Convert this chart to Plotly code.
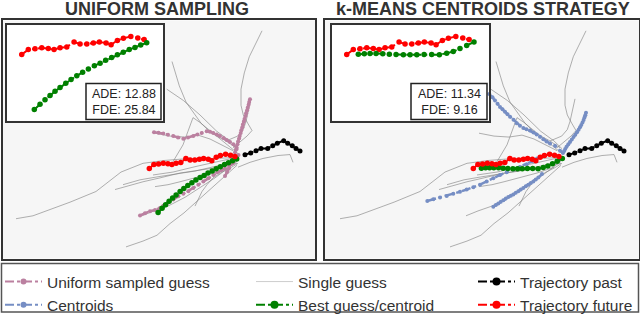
import plotly.graph_objects as go

W, H = 640, 322

# scene coordinates (pixels of the left panel, y pointing down)
past_x = [245, 250.7, 256, 261, 267.7, 272.7, 277.3, 283.7, 287.7, 292.3, 296, 300]
past_y = [159.3, 157.3, 155, 152.7, 152.7, 150, 147.3, 144.7, 147.3, 150, 152.7, 155.3]

future_x = [149.3, 153.9, 158.6, 163.3, 167.9, 171.9, 176.1, 180.8, 185.9, 190.1,
            194.8, 199.4, 203.6, 208.3, 211.8, 216.2, 220.4, 225.6, 230.5, 234.9]
future_y = [173.3, 169.3, 168.7, 167.9, 168.5, 169.3, 167.9, 167.1, 163.1, 164.7,
            164.7, 163.9, 163.1, 163.9, 165.3, 161.8, 159.9, 158.6, 159.7, 161.1]

best_uni_x = [158.1, 162.1, 165.6, 169.1, 172.6, 176.1, 180.1, 183.8, 187.8, 191.9,
              195.9, 200.1, 204.1, 208.0, 212.2, 216.2, 220.3, 224.5, 228.5, 232.5, 236.7]
best_uni_y = [218.7, 214.3, 210.7, 207.1, 203.7, 200.5, 197.1, 193.9, 190.9, 187.9,
              185.3, 182.7, 180.5, 178.1, 175.9, 173.5, 171.5, 169.3, 167.5, 165.5, 163.7]

best_km_x = [157.4, 161.6, 165.6, 169.8, 174.5, 179.1, 183.8, 188.9, 193.6, 198.3,
             203.4, 208.7, 214.1, 219.2, 223.8, 228.5, 233.2, 238.3]
best_km_y = [173.1, 172.7, 172.5, 172.5, 172.7, 173.1, 173.3, 173.5, 173.5, 173.5,
             173.3, 173.3, 173.5, 172.3, 170.9, 168.5, 165.9, 163.1]

uniform_x = [
    [154, 158.5, 163.3, 168, 173.3, 178, 183.3, 188, 193.3, 197.5, 201.7, 206.7,
     210, 213.3, 216.7, 220, 223.5, 226.7, 230, 233.3, 236.7],
    [250, 249.2, 248.6, 247.7, 247.1, 246.1, 245.5, 244.5, 243.9, 242.9, 242.3,
     241.3, 240.7, 239.7, 239.1, 238.1, 237.5, 236.5, 235.9, 235],
    [140, 145, 150, 155, 160, 163.3, 168.3, 173.3, 178.3, 183.3, 188.3, 193.3,
     198.3, 203.3, 208.3, 213.3, 217.3, 221.7, 225, 229, 233],
    [225, 227, 229, 231, 233, 235, 237, 238.5],
]
uniform_y = [
    [136, 136.5, 137.3, 138.5, 140, 141.5, 142.7, 141.5, 140, 138.3, 136.7, 135,
     135.5, 136.7, 138.3, 140, 142, 144, 146, 148.3, 153.3],
    [102, 105, 107.7, 110.8, 113.5, 116.6, 119.3, 122.4, 125.1, 128.2, 130.9,
     134, 136.7, 139.8, 142.5, 145.6, 148.3, 151.4, 154.1, 157],
    [221.7, 219.3, 217.3, 216, 214, 211.7, 208.3, 205.3, 202, 199.3, 196.7, 193.3,
     190, 186.7, 183.3, 180, 177.3, 175, 173.3, 170.5, 168],
    [181, 177, 173, 169, 166, 163, 161, 159.5],
]

centroid_x = [
    [165.3, 168.5, 171, 173.5, 176, 178.5, 181, 183.5, 186, 189.5, 192.7, 196, 199.3,
     202.5, 206, 209.5, 212.7, 216, 219.3, 222.5, 226, 231, 236, 239],
    [262, 261.3, 260.5, 259.6, 258.5, 257.3, 256, 254.6, 253, 251.3, 249.5, 247.8,
     246, 244.3, 242.5, 241.2, 240],
    [103.3, 109.3, 116, 122.7, 129.3, 136, 142.7, 149.3, 156, 162.7, 169.3, 176,
     182.7, 189.3, 196, 202.7, 208, 213],
    [169.3, 171.8, 174.3, 176.8, 179.3, 181.8, 184.3, 186.8, 189.3, 191.8, 194.3,
     196.8, 199.3, 201.8, 204.3, 206.8, 209.3, 211.8, 214.3, 218],
]
centroid_y = [
    [96.7, 100, 103.3, 106.7, 110, 112.5, 115, 117.5, 120, 123.3, 126.7, 129.3, 131.7,
     133, 134.3, 136.3, 138.3, 140.8, 143.3, 145.5, 147.7, 150, 155, 157.5],
    [116, 118.5, 121, 123.5, 126, 128.5, 131, 133.5, 136, 138.5, 141, 143.5,
     146, 148.5, 151, 153.2, 155.5],
    [206.7, 205, 203.3, 201.7, 199.3, 197.3, 195, 192.7, 190, 186.7, 183.3, 180,
     177.3, 174.3, 171.7, 169, 166, 163],
    [212.7, 211, 209.3, 207.6, 206, 204.3, 202.7, 201.3, 200, 198.3, 196.7,
     195, 193.3, 191.6, 190, 188.3, 186.7, 184.7, 182.7, 179],
]

guess_x = [
    [262, 256, 249.3, 244.3, 241, 241, 243.3, 247.7, 252, 247, 240, 233],
    [172, 179.3, 186, 192.7, 201, 211, 226, 236],
    [155, 170, 185, 198, 210, 222, 233],
    [251, 247.7, 246, 243.3, 237.7, 226],
    [172, 177, 183, 188, 193, 200, 207, 216, 228, 238],
    [166.7, 183.3, 200, 216.7, 230, 238],
    [238, 250, 263, 278, 290, 293],
    [16, 33, 70, 96, 121, 143, 165, 190, 215, 237],
    [115, 143, 160, 180, 213, 237],
    [123, 140, 157, 175, 195, 220, 238],
    [126, 143, 157, 170, 184, 197, 210, 223, 237],
    [195, 198, 202, 207, 213, 222, 230, 238],
    [155, 168, 180, 195, 213, 230],
    [142, 154, 168, 185, 200, 215, 228, 237],
    [153, 173, 197, 215, 232],
]
guess_y = [
    [31.7, 45, 58.3, 75, 91.7, 108.3, 118.3, 126.7, 134.3, 140, 146, 152],
    [63.3, 88.3, 105, 115, 126.7, 136.7, 145, 152],
    [137, 140, 141, 139, 143, 149, 155],
    [101.7, 116.7, 125, 133.3, 140, 145],
    [168, 160, 149, 135, 121, 126, 132, 140, 150, 158],
    [91.7, 103.3, 118.3, 135, 145, 153],
    [172, 167, 163, 160, 159, 167],
    [225, 222, 208, 197, 177, 168, 165, 163, 163, 162],
    [195, 187, 183, 178, 173, 168],
    [190, 185, 182, 179, 176, 170, 165],
    [254, 248, 242, 230, 219, 207, 195, 183, 170],
    [212, 205, 197, 190, 183, 177, 173, 168],
    [192, 190, 187, 183, 178, 172],
    [222, 217, 212, 203, 193, 183, 173, 166],
    [180, 177, 171, 167, 163],
]

panel_titles = ["UNIFORM SAMPLING", "k-MEANS CENTROIDS STRATEGY"]
ade = ["12.88", "11.34"]
fde = ["25.84", "9.16"]

PINK = "rgb(187,128,160)"
BLUE = "rgb(118,142,196)"
GREEN = "rgb(0,128,0)"
RED = "rgb(255,0,0)"
GRAY = "rgba(125,125,125,0.6)"
FONT = "Arial, Liberation Sans, sans-serif"


def px(x):
    return x / W


def py(y):
    return 1 - y / H


fig = go.Figure()


def traj(x, y, color, xa, ya, size=5.5, width=2):
    fig.add_trace(go.Scatter(
        x=x, y=y, mode="lines+markers", xaxis=xa, yaxis=ya, showlegend=False,
        hoverinfo="skip",
        line=dict(color=color, width=width, dash="dashdot"),
        marker=dict(color=color, size=size)))


panels = [("x", "y", uniform_x, uniform_y, PINK, best_uni_x, best_uni_y),
          ("x2", "y2", centroid_x, centroid_y, BLUE, best_km_x, best_km_y)]

for xa, ya, sx, sy, scol, bx, by in panels:
    for gx, gy in zip(guess_x, guess_y):
        fig.add_trace(go.Scatter(x=gx, y=gy, mode="lines", xaxis=xa, yaxis=ya,
                                 showlegend=False, hoverinfo="skip",
                                 line=dict(color=GRAY, width=1)))
    for cx, cy in zip(sx, sy):
        traj(cx, cy, scol, xa, ya, size=4, width=2.5)
    traj(bx, by, GREEN, xa, ya)
    traj(future_x, future_y, RED, xa, ya)
    traj(past_x, past_y, "black", xa, ya, size=5)

# insets: zoom of future and best guess
for xa, ya, bx, by in [("x3", "y3", best_uni_x, best_uni_y),
                       ("x4", "y4", best_km_x, best_km_y)]:
    traj(future_x, future_y, RED, xa, ya)
    traj(bx, by, GREEN, xa, ya)

# legend entries
legend_items = [
    ("Uniform sampled guess", PINK, 6, 2, "legend"),
    ("Centroids", BLUE, 6, 2, "legend"),
    ("Single guess", "rgb(205,205,205)", 0, 1, "legend2"),
    ("Best guess/centroid", GREEN, 8, 2, "legend2"),
    ("Trajectory past", "black", 8, 2, "legend3"),
    ("Trajectory future", RED, 8, 2, "legend3"),
]
for name, col, ms, lw, lg in legend_items:
    fig.add_trace(go.Scatter(
        x=[None], y=[None], name=name, legend=lg,
        mode="lines+markers" if ms else "lines",
        line=dict(color=col, width=lw, dash="dashdot" if ms else "solid"),
        marker=dict(color=col, size=ms)))

ax_common = dict(showgrid=False, zeroline=False, showticklabels=False, ticks="",
                 showline=True, mirror=True, linecolor="#333", linewidth=2)

fig.update_layout(
    width=W, height=H, autosize=False,
    margin=dict(l=0, r=0, t=0, b=0),
    paper_bgcolor="white", plot_bgcolor="rgba(0,0,0,0)",
    xaxis=dict(domain=[px(3), px(315)], range=[3, 315], anchor="y", **ax_common),
    yaxis=dict(domain=[py(266), py(21)], range=[266, 21], anchor="x", **ax_common),
    xaxis2=dict(domain=[px(325), px(639)], range=[1, 315], anchor="y2", **ax_common),
    yaxis2=dict(domain=[py(266), py(21)], range=[266, 21], anchor="x2", **ax_common),
    xaxis3=dict(domain=[px(7), px(163)], range=[139, 248.1], anchor="y3", **ax_common),
    yaxis3=dict(domain=[py(124), py(26)], range=[227.7, 149.3], anchor="x3", **ax_common),
    xaxis4=dict(domain=[px(332), px(489)], range=[139, 248.8], anchor="y4", **ax_common),
    yaxis4=dict(domain=[py(124), py(26)], range=[227.7, 149.3], anchor="x4", **ax_common),
    font=dict(family=FONT, color="#333"),
    showlegend=True,
)

leg_common = dict(orientation="v", yanchor="top", xanchor="left", y=py(273),
                  bgcolor="rgba(0,0,0,0)", borderwidth=0, itemwidth=37,
                  font=dict(size=15.5, family=FONT, color="#333"))
fig.update_layout(legend=dict(x=px(0), **leg_common),
                  legend2=dict(x=px(251), **leg_common),
                  legend3=dict(x=px(473), **leg_common))

shapes = []
# panel backgrounds
for x0, x1 in [(3, 315), (325, 639)]:
    shapes.append(dict(type="rect", xref="paper", yref="paper", layer="below",
                       x0=px(x0), x1=px(x1), y0=py(266), y1=py(21),
                       fillcolor="#f6f6f6", line=dict(width=0)))
for x0, x1 in [(7, 163), (332, 489)]:
    shapes.append(dict(type="rect", xref="paper", yref="paper", layer="below",
                       x0=px(x0), x1=px(x1), y0=py(124), y1=py(26),
                       fillcolor="white", line=dict(width=0)))
# metric boxes
for x0, x1 in [(86, 161), (411, 487)]:
    shapes.append(dict(type="rect", xref="paper", yref="paper", layer="above",
                       x0=px(x0), x1=px(x1), y0=py(123), y1=py(86),
                       fillcolor="white", line=dict(color="#222", width=1.5)))
# legend frame
shapes.append(dict(type="rect", xref="paper", yref="paper", layer="below",
                   x0=px(1.5), x1=px(638.5), y0=py(321), y1=py(271),
                   fillcolor="white", line=dict(color="#555", width=1.5)))
fig.update_layout(shapes=shapes)

annotations = []
for t, cx in zip(panel_titles, [157, 482.5]):
    annotations.append(dict(text="<b>" + t + "</b>", x=px(cx), y=py(9),
                            xref="paper", yref="paper", showarrow=False,
                            xanchor="center", yanchor="middle",
                            font=dict(size=18, family=FONT, color="#333")))
for a, f, cx in zip(ade, fde, [123.5, 449]):
    annotations.append(dict(text="ADE: " + a + "<br>FDE: " + f, x=px(cx), y=py(104.5),
                            xref="paper", yref="paper", showarrow=False,
                            xanchor="center", yanchor="middle", align="center",
                            font=dict(size=12.5, family=FONT, color="#222")))
fig.update_layout(annotations=annotations)

fig.write_html("out.html", config={"displayModeBar": False},
               post_script="document.body.style.margin='0';document.body.style.overflow='hidden';")
